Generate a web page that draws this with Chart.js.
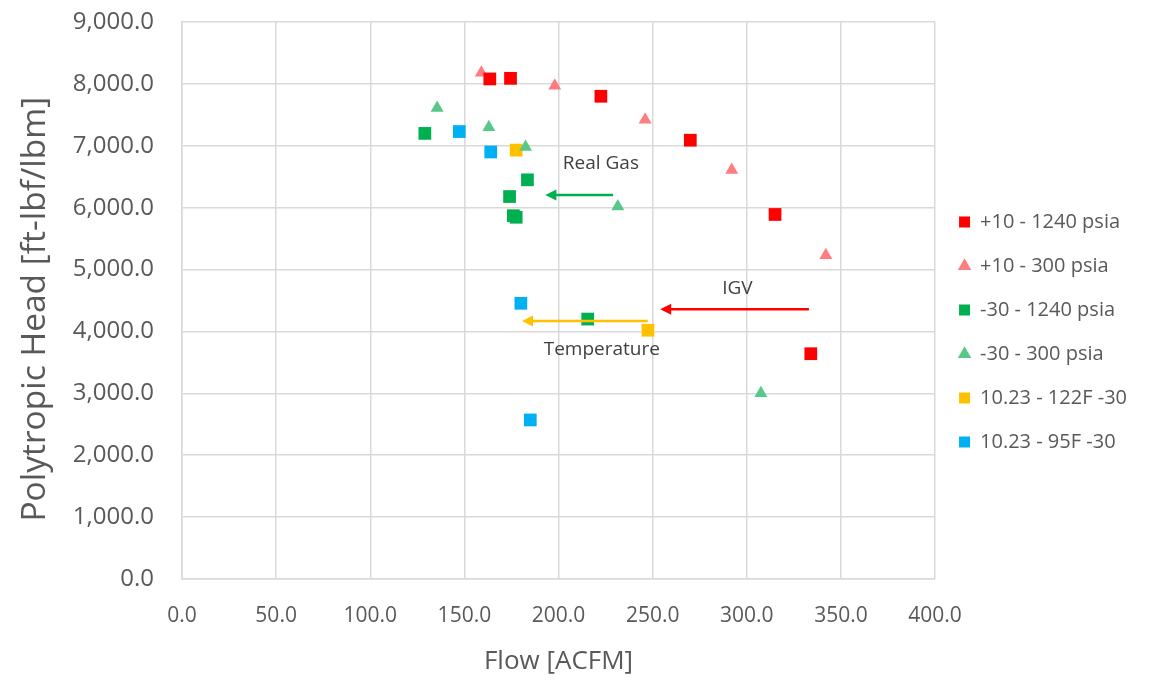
<!DOCTYPE html>
<html>
<head>
<meta charset="utf-8">
<script src="https://cdn.jsdelivr.net/npm/chart.js@4.4.1/dist/chart.umd.min.js"></script>
<style>
  html, body { margin: 0; padding: 0; background: #fff; }
  #wrap { width: 1159px; height: 682px; }
</style>
</head>
<body>
<div id="wrap"><canvas id="chart" width="1159" height="682"></canvas></div>
<script>
// series names (legend order)
const seriesNames = ['+10 - 1240 psia', '+10 - 300 psia', '-30 - 1240 psia', '-30 - 300 psia', '10.23 - 122F -30', '10.23 - 95F -30'];

// flow [ACFM] / polytropic head [ft-lbf/lbm]
const p10HiFlow = [163.5, 174.5, 222.5, 270, 315, 334];
const p10HiHead = [8080, 8090, 7800, 7090, 5890, 3640];
const p10LoFlow = [159, 198, 246, 292, 342];
const p10LoHead = [8180, 7970, 7420, 6610, 5230];
const m30HiFlow = [129, 183.5, 174, 176, 177.5, 215.5];
const m30HiHead = [7200, 6450, 6180, 5870, 5845, 4200];
const m30LoFlow = [135.5, 163, 182.5, 231.5, 307.5];
const m30LoHead = [7610, 7300, 6980, 6020, 3000];
const t122Flow = [177.5, 247.5];
const t122Head = [6930, 4020];
const t95Flow = [147.3, 164, 180, 185];
const t95Head = [7230, 6900, 4455, 2570];

// annotations (data units)
const noteTexts = ['Real Gas', 'IGV', 'Temperature'];
const noteFlow = [222.5, 295, 223];
const noteHead = [6716, 4696, 3700];
const arrowFromFlow = [229, 333, 247.4];
const arrowToFlow = [193, 254, 180.6];
const arrowHead = [6205, 4357, 4168];
const arrowColors = ['#00B050', '#FF0000', '#FFC000'];

const FONT = '"Open Sans", "DejaVu Sans", sans-serif';
const TXT = '#595959';
const GRID = '#d9d9d9';

function pts(xs, ys) {
  return xs.map((x, i) => ({ x, y: ys[i] }));
}

function series(i, xs, ys, color, style, r) {
  return {
    label: seriesNames[i],
    data: pts(xs, ys),
    backgroundColor: color,
    borderColor: color,
    borderWidth: 0,
    pointStyle: style,
    pointRadius: r,
    pointHoverRadius: r,
  };
}

// arrows + labels drawn over the points
const notesPlugin = {
  id: 'notes',
  afterDatasetsDraw(chart) {
    const { ctx, scales: { x, y } } = chart;
    ctx.save();
    arrowFromFlow.forEach((f, i) => {
      const x1 = x.getPixelForValue(f);
      const x2 = x.getPixelForValue(arrowToFlow[i]);
      const yy = y.getPixelForValue(arrowHead[i]);
      const head = 11;
      ctx.strokeStyle = arrowColors[i];
      ctx.fillStyle = arrowColors[i];
      ctx.lineWidth = 2.5;
      ctx.beginPath();
      ctx.moveTo(x1, yy);
      ctx.lineTo(x2 + head - 1, yy);
      ctx.stroke();
      ctx.beginPath();
      ctx.moveTo(x2, yy);
      ctx.lineTo(x2 + head, yy - 5.5);
      ctx.lineTo(x2 + head, yy + 5.5);
      ctx.closePath();
      ctx.fill();
    });
    ctx.fillStyle = '#404040';
    ctx.font = '19px ' + FONT;
    ctx.textAlign = 'center';
    ctx.textBaseline = 'middle';
    noteTexts.forEach((t, i) => {
      ctx.fillText(t, x.getPixelForValue(noteFlow[i]), y.getPixelForValue(noteHead[i]));
    });
    ctx.restore();
  }
};

new Chart(document.getElementById('chart'), {
  type: 'scatter',
  data: {
    datasets: [
      series(0, p10HiFlow, p10HiHead, '#FF0000', 'rect', 9),
      series(1, p10LoFlow, p10LoHead, '#FF7C80', 'triangle', 7.5),
      series(2, m30HiFlow, m30HiHead, '#00B050', 'rect', 9),
      series(3, m30LoFlow, m30LoHead, '#57C88A', 'triangle', 7.5),
      series(4, t122Flow, t122Head, '#FFC000', 'rect', 9),
      series(5, t95Flow, t95Head, '#00B0F0', 'rect', 9),
    ]
  },
  options: {
    responsive: false,
    animation: false,
    layout: { padding: { left: 11, top: 22, right: 22, bottom: 1 } },
    plugins: {
      tooltip: { enabled: false },
      legend: {
        position: 'right',
        align: 'start',
        title: { display: true, text: ' ', padding: 71, font: { size: 20, family: FONT } },
        labels: {
          usePointStyle: true,
          boxWidth: 11,
          boxHeight: 11,
          padding: 24,
          color: TXT,
          font: { size: 20, family: FONT },
        }
      }
    },
    scales: {
      x: {
        type: 'linear',
        min: 0,
        max: 400,
        afterFit(scale) { scale.height = 102; },
        ticks: {
          stepSize: 50,
          padding: 24,
          color: TXT,
          font: { size: 21, family: FONT },
          maxRotation: 0,
          callback: v => v.toFixed(1),
        },
        grid: { color: GRID, lineWidth: 1.5, drawTicks: false },
        border: { color: GRID, width: 1.5 },
        title: { display: true, text: 'Flow [ACFM]', color: TXT, font: { size: 26, family: FONT }, padding: 4 },
      },
      y: {
        min: 0,
        max: 9000,
        afterFit(scale) {
          scale.width = 171;
          // tick padding is horizontal here, don't let it push the plot down
          scale.paddingTop = 0;
          scale.paddingBottom = 0;
        },
        ticks: {
          stepSize: 1000,
          padding: 28,
          color: TXT,
          font: { size: 24, family: FONT },
          callback: v => v.toLocaleString('en-US', { minimumFractionDigits: 1, maximumFractionDigits: 1 }),
        },
        grid: { color: GRID, lineWidth: 1.5, drawTicks: false },
        border: { color: GRID, width: 1.5 },
        // trailing spaces nudge the centred title a little lower, as in the original
        title: { display: true, text: 'Polytropic Head [ft-lbf/lbm]  ', color: TXT, font: { size: 33.5, family: FONT }, padding: 4 },
      }
    }
  },
  plugins: [notesPlugin]
});
</script>
</body>
</html>
